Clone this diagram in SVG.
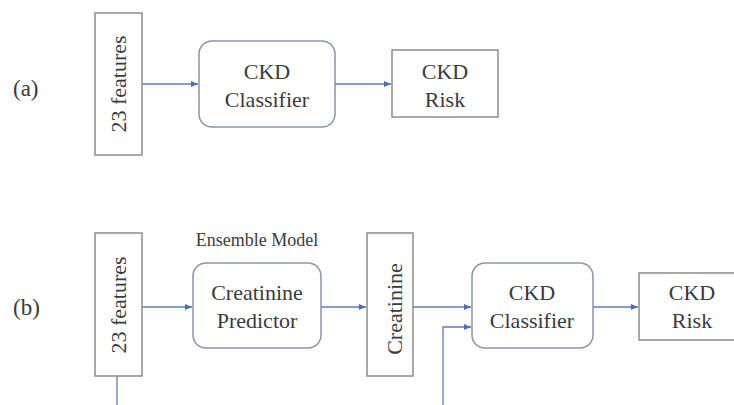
<svg xmlns="http://www.w3.org/2000/svg" width="734" height="405" viewBox="0 0 734 405">
<defs>
<marker id="arr" markerWidth="8" markerHeight="8" refX="7" refY="4" orient="auto" markerUnits="userSpaceOnUse">
<path d="M0,1 L7,4 L0,7 Z" fill="#4a6fb5"/>
</marker>
<style>
.box{fill:#fff;stroke:#8c8c8c;stroke-width:1.5}
.rbox{fill:#fff;stroke:#8a93ad;stroke-width:1.5}
.t{font-family:"Liberation Serif","Times New Roman",serif;font-size:22px;fill:#3a3a3a;text-anchor:middle}
.s{font-size:18px}
.lbl{font-family:"Liberation Serif","Times New Roman",serif;font-size:23px;fill:#3a3a3a}
.c{fill:none;stroke:#5b7bbf;stroke-width:1.3}
</style>
</defs>
<rect width="734" height="405" fill="#fff"/>
<text class="lbl" x="13" y="96">(a)</text>
<text class="lbl" x="13" y="315">(b)</text>
<g id="connectors">
<line class="c" x1="142" y1="84" x2="198" y2="84" marker-end="url(#arr)"/>
<line class="c" x1="335" y1="84" x2="391" y2="84" marker-end="url(#arr)"/>
<line class="c" x1="142" y1="307" x2="192" y2="307" marker-end="url(#arr)"/>
<line class="c" x1="321" y1="307" x2="366" y2="307" marker-end="url(#arr)"/>
<line class="c" x1="413" y1="307" x2="471" y2="307" marker-end="url(#arr)"/>
<path class="c" d="M117,376 V415 H443 V327 H471" marker-end="url(#arr)"/>
<line class="c" x1="593" y1="307" x2="638" y2="307" marker-end="url(#arr)"/>
</g>
<g id="a_features">
<rect class="box" x="95" y="13" width="47" height="142"/>
<text class="t" transform="translate(126,84) rotate(-90)">23 features</text>
</g>
<g id="a_classifier">
<rect class="rbox" x="199" y="41" width="136" height="86" rx="13"/>
<text class="t" x="267" y="79">CKD</text>
<text class="t" x="267" y="107">Classifier</text>
</g>
<g id="a_risk">
<rect class="box" x="392" y="50" width="106" height="67"/>
<text class="t" x="445" y="79">CKD</text>
<text class="t" x="445" y="107">Risk</text>
</g>
<g id="b_features">
<rect class="box" x="95" y="233" width="47" height="143"/>
<text class="t" transform="translate(126,305) rotate(-90)">23 features</text>
</g>
<g id="b_predictor">
<text class="t s" x="257" y="246">Ensemble Model</text>
<rect class="rbox" x="193" y="263" width="128" height="85" rx="13"/>
<text class="t" x="257" y="300">Creatinine</text>
<text class="t" x="257" y="328">Predictor</text>
</g>
<g id="b_creatinine">
<rect class="box" x="367" y="233" width="46" height="143"/>
<text class="t" transform="translate(402,309) rotate(-90)">Creatinine</text>
</g>
<g id="b_classifier">
<rect class="rbox" x="472" y="263" width="121" height="85" rx="13"/>
<text class="t" x="532" y="300">CKD</text>
<text class="t" x="532" y="328">Classifier</text>
</g>
<g id="b_risk">
<rect class="box" x="639" y="273" width="106" height="67"/>
<text class="t" x="692" y="300">CKD</text>
<text class="t" x="692" y="328">Risk</text>
</g>
</svg>
